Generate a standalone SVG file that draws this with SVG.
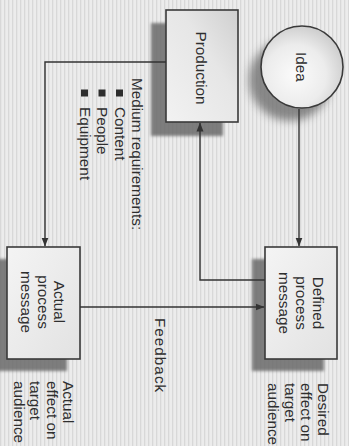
<svg xmlns="http://www.w3.org/2000/svg" width="349" height="446" viewBox="0 0 349 446">
<defs>
<pattern id="bg" width="4" height="4" patternUnits="userSpaceOnUse"><rect width="4" height="4" fill="#ececec"/><rect x="0" width="1.3" height="4" fill="#d8d8d8"/></pattern>
<filter id="blur" x="-30%" y="-30%" width="160%" height="160%"><feGaussianBlur stdDeviation="1.6"/></filter>
<filter id="blur2" x="-50%" y="-50%" width="200%" height="200%"><feGaussianBlur stdDeviation="4"/></filter>
<linearGradient id="boxg" x1="0" y1="0" x2="1" y2="1"><stop offset="0" stop-color="#f4f4f4"/><stop offset="1" stop-color="#e2e2e2"/></linearGradient>
<linearGradient id="prodg" x1="0" y1="1" x2="1" y2="0"><stop offset="0" stop-color="#f2f2f2"/><stop offset="0.6" stop-color="#e6e6e6"/><stop offset="1" stop-color="#cfcfcf"/></linearGradient>
<radialGradient id="circg" cx="0.42" cy="0.6" r="0.62"><stop offset="0" stop-color="#fbfbfb"/><stop offset="0.6" stop-color="#ececec"/><stop offset="1" stop-color="#cdcdcd"/></radialGradient>
<marker id="arr" markerWidth="9" markerHeight="8" refX="8.5" refY="4" orient="auto" markerUnits="userSpaceOnUse"><path d="M0,0.5 L9,4 L0,7.5 Z" fill="#333"/></marker>
</defs>
<style>
.box{stroke:#3a3a3a;stroke-width:1.6}
.shadow{fill:#6a6a6a;opacity:.85;filter:url(#blur)}
.conn{fill:none;stroke:#333;stroke-width:1.4}
text{font-family:"Liberation Sans",Arial,Helvetica,sans-serif;font-size:15.3px;fill:#2e2e2e}
.bul{fill:#2e2e2e}
</style>
<rect width="349" height="446" fill="url(#bg)"/>

<g id="idea">
<circle cx="290" cy="80" r="41" fill="#707070" opacity=".8" filter="url(#blur2)"/>
<circle cx="302" cy="67" r="41" fill="url(#circg)" class="box"/>
<text transform="translate(296,67) rotate(90)" text-anchor="middle">Idea</text>
</g>

<g id="production">
<rect x="151" y="23" width="72" height="113" class="shadow"/>
<rect x="166" y="10" width="72" height="112" fill="url(#prodg)" class="box"/>
<text transform="translate(196,68) rotate(90)" text-anchor="middle">Production</text>
</g>

<g id="requirements">
<text transform="translate(132,78) rotate(90)">Medium requirements:<tspan x="29" dy="17.5">Content</tspan><tspan x="29" dy="17.5">People</tspan><tspan x="29" dy="17.5">Equipment</tspan></text>
<rect x="116" y="89.5" width="7" height="7" class="bul"/>
<rect x="98.5" y="89.5" width="7" height="7" class="bul"/>
<rect x="81" y="89.5" width="7" height="7" class="bul"/>
</g>

<g id="actual">
<rect x="-6" y="259" width="73" height="112" class="shadow"/>
<rect x="7" y="247" width="73" height="112" fill="url(#boxg)" class="box"/>
<text transform="translate(54,302) rotate(90)" text-anchor="middle">Actual<tspan x="0" dy="16.5">process</tspan><tspan x="0" dy="16.5">message</tspan></text>
</g>

<g id="defined">
<rect x="252" y="259" width="72" height="112" class="shadow"/>
<rect x="265" y="247" width="72" height="112" fill="url(#boxg)" class="box"/>
<text transform="translate(313,303) rotate(90)" text-anchor="middle">Defined<tspan x="0" dy="17">process</tspan><tspan x="0" dy="17">message</tspan></text>
</g>

<g id="actual-effect">
<text transform="translate(63,381) rotate(90)">Actual<tspan x="0" dy="16.5">effect on</tspan><tspan x="0" dy="16.5">target</tspan><tspan x="0" dy="16.5">audience</tspan></text>
</g>

<g id="desired-effect">
<text transform="translate(318,383) rotate(90)">Desired<tspan x="0" dy="16.7">effect on</tspan><tspan x="0" dy="16.7">target</tspan><tspan x="0" dy="16.7">audience</tspan></text>
</g>

<g id="connectors">
<path class="conn" d="M166,62 H45 V246" marker-end="url(#arr)"/>
<path class="conn" d="M265,280 H200 V123" marker-end="url(#arr)"/>
<path class="conn" d="M299,109 V246" marker-end="url(#arr)"/>
<path class="conn" d="M80,307 H264" marker-end="url(#arr)"/>
<text transform="translate(155,318) rotate(90)" letter-spacing="1">Feedback</text>
</g>
</svg>
